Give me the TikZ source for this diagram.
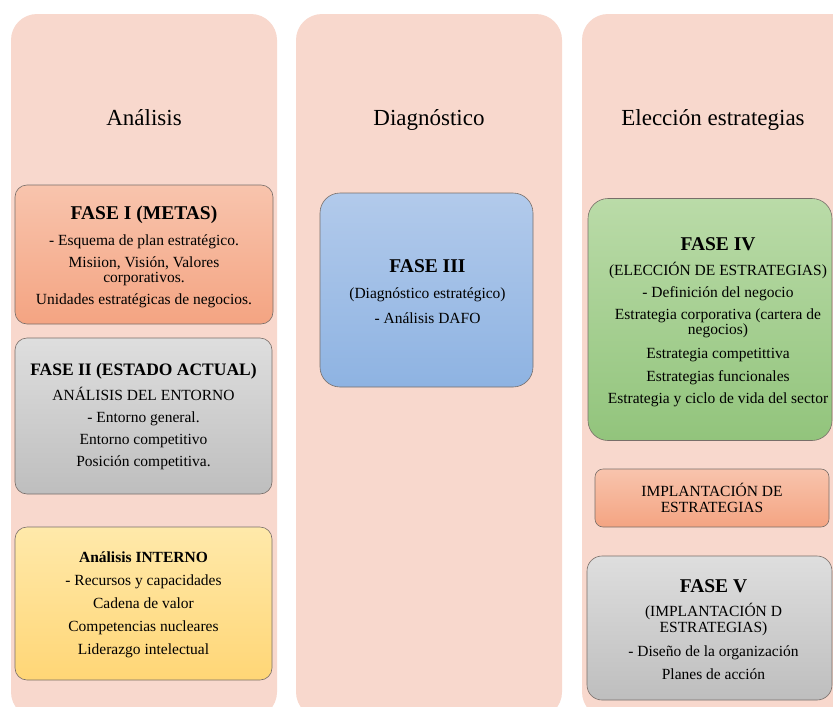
\documentclass[tikz,border=0pt]{standalone}
\usepackage{fontspec}
\setmainfont{Liberation Serif}
\definecolor{colpink}{RGB}{248,216,205}
\definecolor{boxline}{RGB}{120,110,105}
\definecolor{salTop}{RGB}{248,196,173}
\definecolor{salBot}{RGB}{244,164,130}
\definecolor{grayTop}{RGB}{222,222,222}
\definecolor{grayBot}{RGB}{190,190,190}
\definecolor{yelTop}{RGB}{255,233,170}
\definecolor{yelBot}{RGB}{255,214,118}
\definecolor{bluTop}{RGB}{178,202,235}
\definecolor{bluBot}{RGB}{142,179,226}
\definecolor{grnTop}{RGB}{186,219,168}
\definecolor{grnBot}{RGB}{146,196,124}
\newcommand{\bodyfnt}{\fontsize{15.5}{14.5}\selectfont}
\newcommand{\headfnt}{\fontsize{19.5}{22}\selectfont\bfseries}
\begin{document}
\begin{tikzpicture}[x=1pt,y=-1pt,
  colbox/.style={fill=colpink, rounded corners=26pt, inner sep=0pt},
  coltitle/.style={anchor=base, font=\fontsize{23}{27}\selectfont},
  box/.style={draw=boxline, line width=0.6pt, rounded corners=12pt, inner sep=0pt},
  txt/.style={inner sep=0pt, align=center, font=\bodyfnt},
  salmon/.style={top color=salTop, bottom color=salBot},
  grey/.style={top color=grayTop, bottom color=grayBot},
  yellow/.style={top color=yelTop, bottom color=yelBot},
  blue/.style={top color=bluTop, bottom color=bluBot},
  green/.style={top color=grnTop, bottom color=grnBot}]
\useasboundingbox (0,0) rectangle (833,707);
\clip (0,0) rectangle (833,707);
\fill[white] (0,0) rectangle (833,707);
% columns
\node[colbox, minimum width=266, minimum height=704] (c1) at (144,366) {};
\node[colbox, minimum width=266, minimum height=704] (c2) at (429,366) {};
\node[colbox, minimum width=290, minimum height=704] (c3) at (727,366) {};
\node[coltitle] (t1) at (144,125) {Análisis};
\node[coltitle] (t2) at (429,125) {Diagnóstico};
\node[coltitle] (t3) at (713,125) {Elección estrategias};
% column 1
\node[box, salmon, minimum width=258, minimum height=139] (f1) at (144,254.5) {};
\node[txt] (f1t) at ([yshift=-2.5pt]f1.center)
 {{\headfnt FASE I (METAS)}\\[10pt]
  - Esquema de plan estratégico.\\[8pt]
  Misiion, Visión, Valores\\ corporativos.\\[8pt]
  Unidades estratégicas de negocios.};
\node[box, grey, minimum width=257, minimum height=156] (f2) at (143.5,416) {};
\node[txt] (f2t) at ([yshift=-0.5pt]f2.center)
 {{\fontsize{17.5}{20}\selectfont\bfseries FASE II (ESTADO ACTUAL)}\\[7pt]
  ANÁLISIS DEL ENTORNO\\[7.5pt]
  - Entorno general.\\[7.5pt]
  Entorno competitivo\\[7.5pt]
  Posición competitiva.};
\node[box, yellow, minimum width=257, minimum height=153] (ai) at (143.5,603.5) {};
\node[txt] (ait) at ([yshift=-1.5pt]ai.center)
 {{\bfseries Análisis INTERNO}\\[8.5pt]
  - Recursos y capacidades\\[8.5pt]
  Cadena de valor\\[8.5pt]
  Competencias nucleares\\[8pt]
  Liderazgo intelectual};
% column 2
\node[box, blue, rounded corners=20pt, minimum width=213, minimum height=194] (f3) at (426.5,290) {};
\node[txt] (f3t) at ([yshift=-1.5pt,xshift=1pt]f3.center)
 {{\headfnt FASE III}\\[12pt]
  (Diagnóstico estratégico)\\[10.5pt]
  - Análisis DAFO};
% column 3
\node[box, green, rounded corners=20pt, minimum width=244, minimum height=242] (f4) at (710,319.5) {};
\node[txt] (f4t) at ([yshift=-2.5pt,xshift=8pt]f4.center)
 {{\headfnt FASE IV}\\[11pt]
  (ELECCIÓN DE ESTRATEGIAS)\\[7.5pt]
  - Definición del negocio\\[7.5pt]
  Estrategia corporativa (cartera de\\ negocios)\\[10pt]
  Estrategia competittiva\\[8.5pt]
  Estrategias funcionales\\[7.5pt]
  Estrategia y ciclo de vida del sector};
\node[box, salmon, rounded corners=8pt, minimum width=234, minimum height=58] (im) at (712,498) {};
\node[txt] (imt) at (im.center) {IMPLANTACIÓN DE\\[1.5pt] ESTRATEGIAS};
\node[box, grey, rounded corners=15pt, minimum width=245, minimum height=144] (f5) at (709.5,628) {};
\node[txt] (f5t) at ([yshift=-1.5pt,xshift=4pt]f5.center)
 {{\headfnt FASE V}\\[10pt]
  (IMPLANTACIÓN D\\[1.5pt] ESTRATEGIAS)\\[9.5pt]
  - Diseño de la organización\\[8.5pt]
  Planes de acción};
\end{tikzpicture}
\end{document}
